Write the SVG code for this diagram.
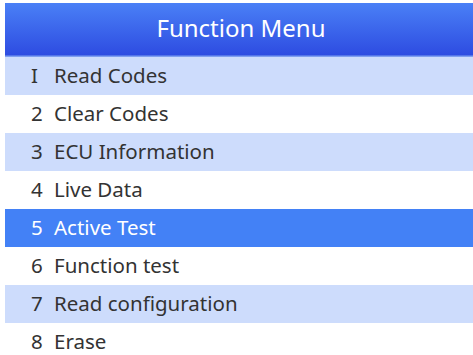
<svg xmlns="http://www.w3.org/2000/svg" width="473" height="355" viewBox="0 0 473 355">
<defs>
<linearGradient id="hdr" x1="0" y1="0" x2="0" y2="1">
<stop offset="0" stop-color="#4a80f6"/>
<stop offset="1" stop-color="#2d4be1"/>
</linearGradient>
<style>
.t{font-family:"Noto Sans","Open Sans","DejaVu Sans",sans-serif;font-size:20.5px;fill:#333333}
.sel .t{fill:#ffffff}
.alt{fill:#cddcfc}
.plain{fill:#ffffff}
.hl{fill:#4381f6}
</style>
</defs>
<rect width="473" height="355" fill="#ffffff"/>
<g id="header">
<rect x="5" y="3" width="468" height="53" fill="url(#hdr)"/>
<rect x="5" y="55.5" width="468" height="1.5" fill="#7f9ff0"/>
<text x="241" y="37" text-anchor="middle" style="font-family:'Noto Sans','Open Sans',sans-serif;font-size:24px;fill:#ffffff">Function Menu</text>
</g>
<g id="item1"><rect class="alt" x="5" y="57" width="468" height="38"/><text class="t" x="31" y="82.5">I</text><text class="t" x="54" y="82.5">Read Codes</text></g>
<g id="item2"><rect class="plain" x="5" y="95" width="468" height="38"/><text class="t" x="31" y="120.5">2</text><text class="t" x="54" y="120.5">Clear Codes</text></g>
<g id="item3"><rect class="alt" x="5" y="133" width="468" height="38"/><text class="t" x="31" y="158.5">3</text><text class="t" x="54" y="158.5">ECU Information</text></g>
<g id="item4"><rect class="plain" x="5" y="171" width="468" height="38"/><text class="t" x="31" y="196.5">4</text><text class="t" x="54" y="196.5">Live Data</text></g>
<g id="item5" class="sel"><rect class="hl" x="5" y="209" width="468" height="38"/><text class="t" x="31" y="234.5">5</text><text class="t" x="54" y="234.5">Active Test</text></g>
<g id="item6"><rect class="plain" x="5" y="247" width="468" height="38"/><text class="t" x="31" y="272.5">6</text><text class="t" x="54" y="272.5">Function test</text></g>
<g id="item7"><rect class="alt" x="5" y="285" width="468" height="38"/><text class="t" x="31" y="310.5">7</text><text class="t" x="54" y="310.5">Read configuration</text></g>
<g id="item8"><rect class="plain" x="5" y="323" width="468" height="32"/><text class="t" x="31" y="348.5">8</text><text class="t" x="54" y="348.5">Erase</text></g>
</svg>
